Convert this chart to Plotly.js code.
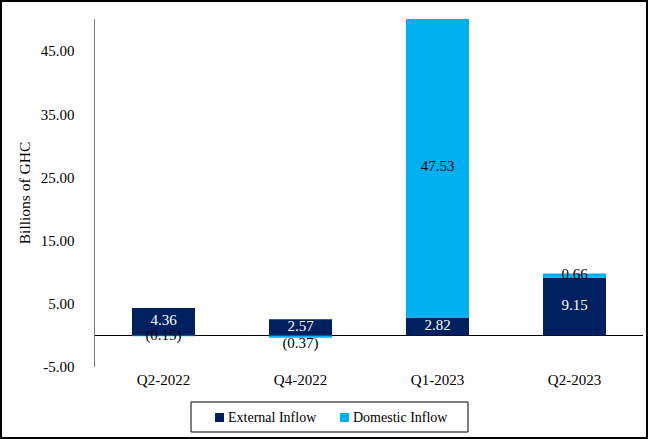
<!DOCTYPE html>
<html>
<head>
<meta charset="utf-8">
<script src="https://cdn.plot.ly/plotly-3.0.1.min.js"></script>
<style>
  html, body { margin: 0; padding: 0; background: #fff; }
  #wrap { position: relative; width: 648px; height: 439px; }
  #chart { width: 648px; height: 439px; }
  #frame { position: absolute; left: 0; top: 0; width: 648px; height: 439px;
           box-sizing: border-box; border: 2px solid #000; pointer-events: none; }
</style>
</head>
<body>
<div id="wrap">
  <div id="chart"></div>
  <div id="frame"></div>
</div>
<script>
// Inflows by quarter, billions of GHC
const quarters = ['Q2-2022', 'Q4-2022', 'Q1-2023', 'Q2-2023'];
const externalInflow = [4.36, 2.57, 2.82, 9.15];
const domesticInflow = [-0.15, -0.37, 47.53, 0.66];
const yTickValues = [-5, 5, 15, 25, 35, 45];
const seriesNames = ['External Inflow', 'Domestic Inflow'];
const seriesColors = ['#002060', '#00B0F0'];

const fmt = v => v < 0 ? '(' + Math.abs(v).toFixed(2) + ')' : v.toFixed(2);
const serif = 'Liberation Serif, Times New Roman, serif';

// Labels sit at the middle of each stacked segment
const externalLabelY = externalInflow.map(e => e / 2);
const domesticLabelY = domesticInflow.map((d, i) => d >= 0 ? externalInflow[i] + d / 2 : d / 2);
const domesticLabelPos = domesticInflow.map(d => d < -0.3 ? 'bottom center' : 'middle center');

const traces = [
  {
    type: 'bar', name: seriesNames[0], x: quarters, y: externalInflow,
    marker: { color: seriesColors[0] }, showlegend: false
  },
  {
    type: 'bar', name: seriesNames[1], x: quarters, y: domesticInflow,
    marker: { color: seriesColors[1] }, showlegend: false
  },
  {
    type: 'scatter', mode: 'text', x: quarters, y: externalLabelY,
    text: externalInflow.map(fmt), textposition: 'middle center',
    textfont: { family: serif, size: 15, color: '#ffffff' },
    showlegend: false, hoverinfo: 'skip', cliponaxis: false
  },
  {
    type: 'scatter', mode: 'text', x: quarters, y: domesticLabelY,
    text: domesticInflow.map(fmt), textposition: domesticLabelPos,
    textfont: { family: serif, size: 15, color: '#000000' },
    showlegend: false, hoverinfo: 'skip', cliponaxis: false
  }
];

// Plot area geometry in pixels, used to place the legend box in paper units
const W = 648, H = 439;
const M = { l: 95, r: 5, t: 19, b: 72 };
const pw = W - M.l - M.r, ph = H - M.t - M.b;
const px = x => (x - M.l) / pw;
const py = y => (H - M.b - y) / ph;

const legendShapes = [
  { type: 'rect', xref: 'paper', yref: 'paper', x0: px(191), x1: px(468), y0: py(432), y1: py(402),
    line: { color: '#000', width: 1 }, fillcolor: '#fff' },
  { type: 'rect', xref: 'paper', yref: 'paper', x0: px(215), x1: px(224), y0: py(422), y1: py(413),
    line: { width: 0 }, fillcolor: seriesColors[0] },
  { type: 'rect', xref: 'paper', yref: 'paper', x0: px(340), x1: px(349), y0: py(422), y1: py(413),
    line: { width: 0 }, fillcolor: seriesColors[1] }
];
const legendLabels = [
  { xref: 'paper', yref: 'paper', x: px(226), y: py(417), xanchor: 'left', yanchor: 'middle',
    text: seriesNames[0], showarrow: false, font: { family: serif, size: 14, color: '#000' } },
  { xref: 'paper', yref: 'paper', x: px(351), y: py(417), xanchor: 'left', yanchor: 'middle',
    text: seriesNames[1], showarrow: false, font: { family: serif, size: 14, color: '#000' } }
];

const layout = {
  width: W, height: H,
  margin: M,
  paper_bgcolor: '#ffffff', plot_bgcolor: '#ffffff',
  barmode: 'relative', bargap: 0.54,
  font: { family: serif, size: 15, color: '#000' },
  xaxis: {
    type: 'category', showgrid: false, showline: false, zeroline: false,
    ticks: '', tickfont: { family: serif, size: 15, color: '#000' },
    ticklabelstandoff: 2
  },
  yaxis: {
    range: [-5, 50.1], tickmode: 'array', tickvals: yTickValues,
    ticktext: yTickValues.map(v => v.toFixed(2)),
    showgrid: false, showline: true, linecolor: '#7f7f7f', linewidth: 1.5,
    zeroline: true, zerolinecolor: '#000000', zerolinewidth: 1.5,
    ticks: '', ticklabelstandoff: 16,
    tickfont: { family: serif, size: 15, color: '#000' },
    title: { text: 'Billions of GHC', font: { family: serif, size: 15.5, color: '#000' }, standoff: 6 }
  },
  shapes: legendShapes,
  annotations: legendLabels,
  showlegend: false
};

Plotly.newPlot('chart', traces, layout, { displayModeBar: false, staticPlot: true });
</script>
</body>
</html>
